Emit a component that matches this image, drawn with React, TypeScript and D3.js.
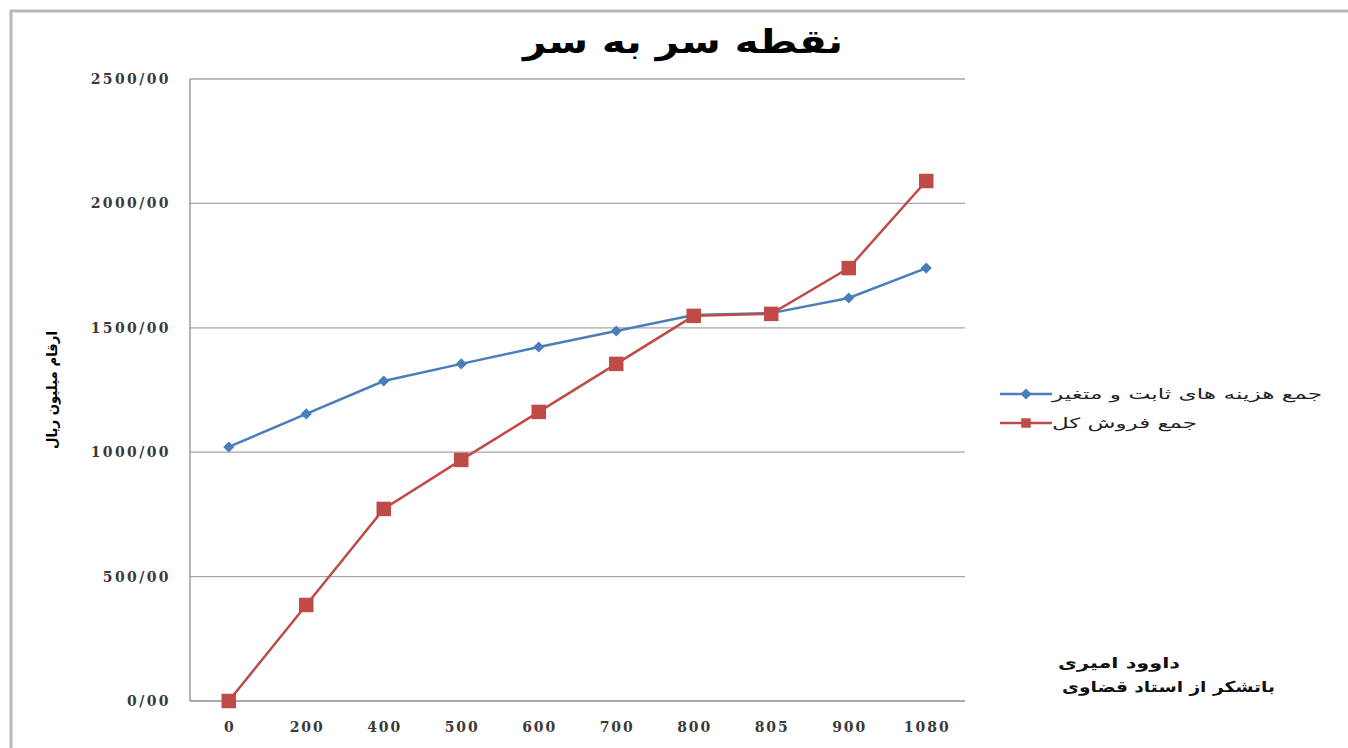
import { scaleBand, scaleLinear, line, symbol, symbolSquare } from "d3";

// break-even chart data
const categories = ["0", "200", "400", "500", "600", "700", "800", "805", "900", "1080"];
const costTotal = [1021, 1154, 1286, 1355, 1423, 1487, 1551, 1559, 1620, 1740];
const salesTotal = [0, 386, 772, 969, 1162, 1355, 1548, 1556, 1740, 2090];
const yTicks = [0, 500, 1000, 1500, 2000, 2500];
const yTickLabels = ["0/00", "500/00", "1000/00", "1500/00", "2000/00", "2500/00"];

const title = "نقطه سر به سر";
const yLabel = "ارقام میلیون ریال";
const costName = "جمع هزینه های ثابت و متغیر";
const salesName = "جمع فروش کل";
const note1 = "داوود امیری";
const note2 = "باتشکر از استاد قضاوی";

const W = 1348;
const H = 748;
const BLUE = "#4a7ebb";
const RED = "#be4b48";
const TICK_FONT = "'DejaVu Serif', serif";
const FA_FONT = "'DejaVu Sans', sans-serif";

const App = () => {
    const x = scaleBand<string>().domain(categories).range([190, 965]);
    const y = scaleLinear().domain([0, 2500]).range([701, 79]);
    const cx = (c: string) => (x(c) as number) + x.bandwidth() / 2;

    const lineGen = line<number>()
        .x((_, i) => cx(categories[i]))
        .y((d) => y(d));

    // diamond = square turned 45deg, like excel's marker
    const diamond = symbol().type(symbolSquare).size(62)() || "";
    const square = symbol().type(symbolSquare).size(210)() || "";
    const smallSquare = symbol().type(symbolSquare).size(90)() || "";

    return (
        <svg width={W} height={H} style={{ position: "absolute", left: 0, top: 0, background: "#fff" }}>
            {/* outer frame */}
            <rect x={11} y={11} width={W} height={H} fill="none" stroke="#b8b8b8" strokeWidth={3} />

            <text x={683} y={53} textAnchor="middle" fontFamily={FA_FONT} fontWeight="bold" fontSize={33}
                textLength={320} lengthAdjust="spacingAndGlyphs" fill="#000">{title}</text>

            {/* grid */}
            {yTicks.map((t, i) => (
                <g key={t}>
                    <line x1={190} x2={965} y1={y(t)} y2={y(t)} stroke={i === 0 ? "#8c8c8c" : "#a6a6a6"} strokeWidth={1.3} />
                    <text x={171} y={y(t) + 5} textAnchor="end" fontFamily={TICK_FONT} fontWeight="bold"
                        fontSize={14} letterSpacing={2.4} fill="#3a3a3a">{yTickLabels[i]}</text>
                </g>
            ))}
            <line x1={190} x2={190} y1={79} y2={701} stroke="#8c8c8c" strokeWidth={1.3} />

            {categories.map((c) => (
                <text key={c} x={cx(c) + 1} y={732} textAnchor="middle" fontFamily={TICK_FONT} fontWeight="bold"
                    fontSize={14} letterSpacing={2} fill="#3a3a3a">{c}</text>
            ))}

            <text transform="translate(57, 390) rotate(-90)" textAnchor="middle" fontFamily={FA_FONT}
                fontWeight="bold" fontSize={14} textLength={118} lengthAdjust="spacingAndGlyphs"
                fill="#000">{yLabel}</text>

            {/* series */}
            <path d={lineGen(costTotal) || ""} fill="none" stroke={BLUE} strokeWidth={2.5} />
            {costTotal.map((v, i) => (
                <path key={i} d={diamond} transform={`translate(${cx(categories[i])},${y(v)}) rotate(45)`} fill={BLUE} />
            ))}
            <path d={lineGen(salesTotal) || ""} fill="none" stroke={RED} strokeWidth={2.5} />
            {salesTotal.map((v, i) => (
                <path key={i} d={square} transform={`translate(${cx(categories[i])},${y(v)})`} fill={RED} />
            ))}

            {/* legend */}
            <line x1={1000} x2={1052} y1={394} y2={394} stroke={BLUE} strokeWidth={2.5} />
            <path d={diamond} transform="translate(1026,394) rotate(45)" fill={BLUE} />
            <text x={1052} y={399} fontFamily={FA_FONT} fontSize={14} textLength={270}
                lengthAdjust="spacingAndGlyphs" fill="#222">{costName}</text>
            <line x1={1000} x2={1052} y1={423} y2={423} stroke={RED} strokeWidth={2.5} />
            <path d={smallSquare} transform="translate(1026,423)" fill={RED} />
            <text x={1052} y={428} fontFamily={FA_FONT} fontSize={14} textLength={145}
                lengthAdjust="spacingAndGlyphs" fill="#222">{salesName}</text>

            {/* note */}
            <text x={1058} y={668} fontFamily={FA_FONT} fontWeight="bold" fontSize={15} textLength={122}
                lengthAdjust="spacingAndGlyphs" fill="#111">{note1}</text>
            <text x={1062} y={692} fontFamily={FA_FONT} fontWeight="bold" fontSize={15} textLength={213}
                lengthAdjust="spacingAndGlyphs" fill="#111">{note2}</text>
        </svg>
    );
};

export default App;
